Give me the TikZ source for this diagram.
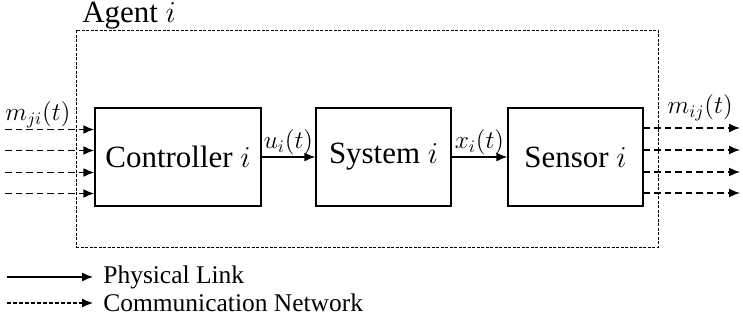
\documentclass[tikz,border=0pt]{standalone}
\usepackage{fontspec}
\setmainfont{Liberation Serif}
\usetikzlibrary{arrows.meta,positioning}

\begin{document}
\begin{tikzpicture}[
    every node/.style={font=\fontsize{17.6}{20}\selectfont},
    blk/.style={draw,line width=0.8pt,minimum width=2.7cm,minimum height=1.96cm,
                inner sep=2pt},
    lbl/.style={font=\fontsize{14.5}{17}\selectfont,inner sep=1pt},
    leg/.style={font=\fontsize{14.5}{17}\selectfont,anchor=west,
                inner xsep=2mm,inner ysep=1pt},
    phys/.style={-{Latex[length=2.2mm,width=1.8mm]},line width=0.8pt},
    comm/.style={-{Latex[length=2.2mm,width=1.8mm]},line width=0.9pt,
                 dash pattern=on 1.3mm off 0.8mm},
    fine/.style={-{Latex[length=2.2mm,width=1.8mm]},line width=0.6pt,
                 dash pattern=on 0.8mm off 0.4mm},
  ]
  \useasboundingbox (0,0) rectangle (14.86,6.52);

  % agent frame
  \node[draw,line width=0.5pt,dash pattern=on 0.6mm off 0.3mm,
        minimum width=11.64cm,minimum height=4.34cm,inner sep=0pt] (agent) at (7.34,3.75) {};
  \node[anchor=base west,inner sep=0pt] (agentlbl) at (1.64,6.06) {Agent $i$};

  % blocks
  \node[blk,minimum width=3.32cm] (ctrl) at (3.56,3.38) {Controller $i$};
  \node[blk] (sys) at (7.67,3.38) {System $i$};
  \node[blk] (sens) at (11.51,3.38) {Sensor $i$};

  \draw[phys] (ctrl) -- node[lbl,above] {$u_i(t)$} (sys);
  \draw[phys] (sys) -- node[lbl,above] {$x_i(t)$} (sens);

  % incoming messages
  \coordinate (in1) at (0.10,3.93);
  \coordinate (in2) at (0.10,3.51);
  \coordinate (in3) at (0.10,3.07);
  \coordinate (in4) at (0.10,2.65);
  \draw[comm] (in1) -- (in1 -| ctrl.west);
  \draw[comm] (in2) -- (in2 -| ctrl.west);
  \draw[comm] (in3) -- (in3 -| ctrl.west);
  \draw[comm] (in4) -- (in4 -| ctrl.west);
  \node[lbl,anchor=base west,inner sep=0pt] (mji) at (0.10,4.10) {$m_{ji}(t)$};

  % outgoing messages
  \coordinate (out1) at (14.80,3.96);
  \coordinate (out2) at (14.80,3.52);
  \coordinate (out3) at (14.80,3.08);
  \coordinate (out4) at (14.80,2.66);
  \draw[comm] (sens.east |- out1) -- (out1);
  \draw[comm] (sens.east |- out2) -- (out2);
  \draw[comm] (sens.east |- out3) -- (out3);
  \draw[comm] (sens.east |- out4) -- (out4);
  \node[lbl,anchor=base east,inner sep=0pt] (mij) at (14.66,4.24) {$m_{ij}(t)$};

  % legend
  \coordinate (lgphys) at (0.14,0.98);
  \coordinate (lgcomm) at (0.14,0.46);
  \node[leg] (physlbl) at (1.86,0.98) {Physical Link};
  \node[leg] (commlbl) at (1.86,0.46) {Communication Network};
  \draw[phys] (lgphys) -- (physlbl.west);
  \draw[fine] (lgcomm) -- (commlbl.west);
\end{tikzpicture}
\end{document}
